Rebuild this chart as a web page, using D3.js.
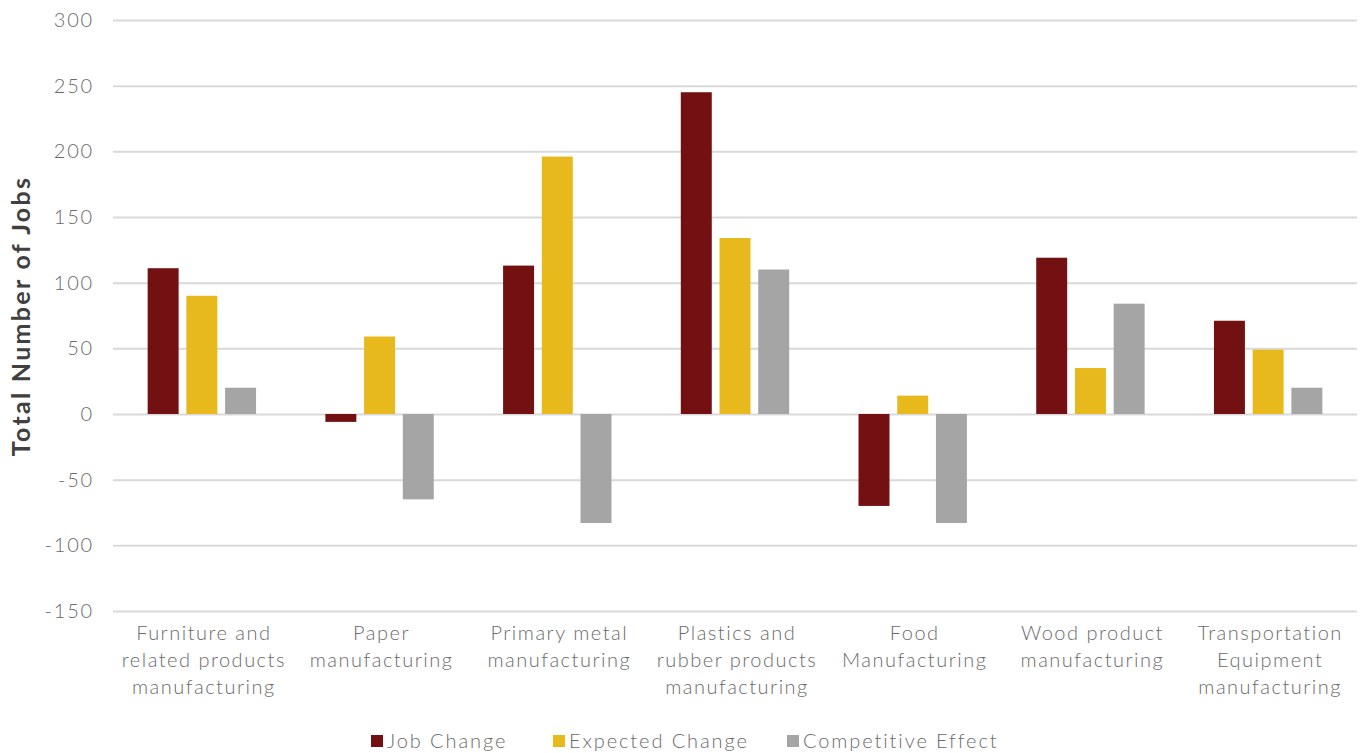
<!DOCTYPE html>
<html><head><meta charset="utf-8">
<script src="https://cdn.jsdelivr.net/npm/d3@7"></script>
<style>
body{margin:0;background:#fff;}
svg text{font-family:Lato,"Open Sans",sans-serif;}
</style></head>
<body><svg id="chart" width="1361" height="753"></svg>
<script>
const categories = [
  ["Furniture and","related products","manufacturing"],
  ["Paper","manufacturing"],
  ["Primary metal","manufacturing"],
  ["Plastics and","rubber products","manufacturing"],
  ["Food","Manufacturing"],
  ["Wood product","manufacturing"],
  ["Transportation","Equipment","manufacturing"]
];
const seriesNames = ["Job Change","Expected Change","Competitive Effect"];
const jobChange = [111, -6, 113, 245, -70, 119, 71];
const expectedChange = [90, 59, 196, 134, 14, 35, 49];
const competitiveEffect = [20, -65, -83, 110, -83, 84, 20];
const yTicks = [300,250,200,150,100,50,0,-50,-100,-150];
const colors = ["#731012","#E8B91C","#A5A5A5"];

(function(){
const series = [jobChange, expectedChange, competitiveEffect];
const svg = d3.select("#chart");
const mLeft = 113, mRight = 1357, mTop = 20, mBottom = 611;

const y = d3.scaleLinear().domain([-150,300]).range([mBottom, mTop]);
const x0 = d3.scaleBand().domain(d3.range(categories.length)).range([mLeft, mRight]).paddingInner(0.39).paddingOuter(0.195);
const x1 = d3.scaleBand().domain(d3.range(series.length)).range([0, x0.bandwidth()]).paddingInner(0.2);

const yAxis = d3.axisLeft(y).tickValues(yTicks).tickSize(-(mRight-mLeft)).tickFormat(d=>String(d));
const ga = svg.append("g").attr("transform", `translate(${mLeft},0)`).call(yAxis);
ga.select(".domain").remove();
ga.selectAll(".tick line").attr("stroke","#D9D9D9").attr("stroke-width",2);
ga.selectAll(".tick text").attr("x",-19).attr("fill","#6b6b6b").attr("font-size","20px").attr("font-weight",300)
  .attr("letter-spacing","1.8px");

const groups = svg.append("g").selectAll("g").data(categories).join("g")
  .attr("transform",(d,i)=>`translate(${x0(i)},0)`);
groups.selectAll("rect").data((d,i)=>series.map((s,k)=>({k, v:s[i]}))).join("rect")
  .attr("x",d=>x1(d.k)).attr("width",x1.bandwidth())
  .attr("y",d=>y(Math.max(0,d.v))).attr("height",d=>Math.abs(y(d.v)-y(0)))
  .attr("fill",d=>colors[d.k]);

const xl = svg.append("g");
categories.forEach((lines,i)=>{
  const cx = x0(i)+x0.bandwidth()/2 + 2;
  const t = xl.append("text").attr("text-anchor","middle").attr("fill","#6b6b6b").attr("font-size","20px").attr("font-weight",300)
    .attr("letter-spacing","1.5px").attr("x", cx).attr("y", 640);
  lines.forEach((ln,j)=>t.append("tspan").attr("x", cx).attr("dy", j===0?0:27).text(ln));
});

svg.append("text").attr("transform","translate(30,316) rotate(-90)").attr("text-anchor","middle")
  .attr("font-size","25px").attr("font-weight",700).attr("fill","#404040").attr("letter-spacing","2.3px")
  .text("Total Number of Jobs");

const legX = [371, 553, 787];
const leg = svg.append("g");
seriesNames.forEach((n,k)=>{
  leg.append("rect").attr("x",legX[k]).attr("y",735).attr("width",12).attr("height",12).attr("fill",colors[k]);
  leg.append("text").attr("x",legX[k]+16).attr("y",748).attr("font-size","20px").attr("font-weight",300)
    .attr("letter-spacing","1.9px").attr("fill","#6b6b6b").text(n);
});
})();
</script></body></html>
